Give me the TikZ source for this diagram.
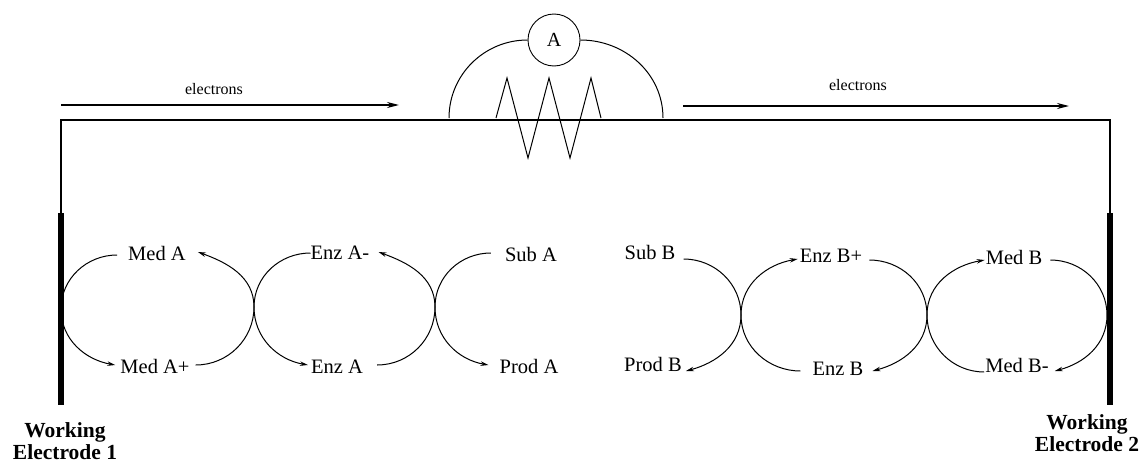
\documentclass[tikz,border=0pt]{standalone}
\usepackage{fontspec}
\setmainfont{Liberation Serif}
\usetikzlibrary{arrows.meta}
\tikzset{
  spc/.style={inner sep=0pt, font=\fontsize{20.5}{22}\selectfont},
  eti/.style={inner sep=0pt, font=\fontsize{16}{18}\selectfont},
  elec/.style={inner sep=0pt, align=center, font=\fontsize{21.5}{21.5}\selectfont\bfseries},
  barra/.style={draw=none, fill=black, inner sep=0pt, minimum width=6pt, minimum height=192pt},
  amp/.style={draw, circle, line width=0.9pt, inner sep=0pt, minimum size=52pt, font=\fontsize{20}{22}\selectfont},
  arc/.style={line width=1pt},
  fl/.style={line width=1pt, -{Stealth[length=8pt,width=4.5pt]}},
  flg/.style={line width=1.5pt, -{Stealth[length=12pt,width=6pt]}},
  hilo/.style={line width=1.5pt},
}
\begin{document}
\begin{tikzpicture}[x=1pt, y=-1pt]
  \useasboundingbox (0,0) rectangle (1141,463);
  % circuit
  \node[barra] (we1) at (61,309) {};
  \node[barra] (we2) at (1110,309) {};
  \coordinate (wl) at (61,120);
  \coordinate (wr) at (1110,120);
  \draw[hilo] (we1.north) -- (wl) -- (wr) -- (we2.north);
  \node[amp] (amp) at (554,40) {A};
  \coordinate (ap1) at (449,118);
  \coordinate (ap2) at (663,118);
  \draw[arc] (ap1) to[out=90, in=180] (amp.west);
  \draw[arc] (amp.east) to[out=0, in=90] (ap2);
  \draw[arc] (496,118) -- (507,78) -- (528,158) -- (549,78) -- (570,158) -- (591,78) -- (601,118);
  % electrons
  \node[eti] (e1) at (214,89) {electrons};
  \node[eti] (e2) at (858,85) {electrons};
  \coordinate (e1a) at (61,105);
  \coordinate (e1b) at (399,105);
  \coordinate (e2a) at (683,106);
  \coordinate (e2b) at (1069,106);
  \draw[flg] (e1a) -- (e1b);
  \draw[flg] (e2a) -- (e2b);
  % species
  \node[spc] (medA) at (157,253) {Med A};
  \node[spc] (medAp) at (155,366) {Med A+};
  \node[spc] (enzAm) at (340,253) {Enz A-};
  \node[spc] (enzA) at (337,367) {Enz A};
  \node[spc] (subA) at (531,254) {Sub A};
  \node[spc] (prodA) at (529,366) {Prod A};
  \node[spc] (subB) at (650,252) {Sub B};
  \node[spc] (prodB) at (653,364) {Prod B};
  \node[spc] (enzBp) at (831,256) {Enz B+};
  \node[spc] (enzB) at (838,369) {Enz B};
  \node[spc] (medB) at (1014,257) {Med B};
  \node[spc] (medBm) at (1017,365) {Med B-};
  \coordinate (c0) at (61,309);
  \coordinate (c1) at (254,307);
  \coordinate (c2) at (435,307);
  \coordinate (c3) at (741,315);
  \coordinate (c4) at (927,315);
  \coordinate (c5) at (1107,315);
  % left cycle
  \draw[fl] ([shift={(-11,2)}]medA.west) to[out=180, in=90] (c0) to[out=-90, in=170] ([shift={(-5,-1)}]medAp.west);
  \draw[fl] ([shift={(6,-1)}]medAp.east) to[out=0, in=-90] (c1) to[out=90, in=-20] ([shift={(12,-1)}]medA.east);
  \draw[fl] ([shift={(0,0)}]enzAm.west) to[out=180, in=90] (c1) to[out=-90, in=170] ([shift={(-3,-2)}]enzA.west);
  \draw[fl] ([shift={(14,-2)}]enzA.east) to[out=0, in=-90] (c2) to[out=90, in=-20] ([shift={(9,-1)}]enzAm.east);
  \draw[fl] ([shift={(-14,-1)}]subA.west) to[out=180, in=90] (c2) to[out=-90, in=170] ([shift={(-11,-1)}]prodA.west);
  % right cycle
  \draw[fl] ([shift={(8,7)}]subB.east) to[out=0, in=90] (c3) to[out=-90, in=15] ([shift={(4,7)}]prodB.east);
  \draw[fl] ([shift={(-12,2)}]enzB.west) to[out=180, in=-90] (c3) to[out=90, in=190] ([shift={(-2,3)}]enzBp.west);
  \draw[fl] ([shift={(7,4)}]enzBp.east) to[out=0, in=90] (c4) to[out=-90, in=15] ([shift={(9,2)}]enzB.east);
  \draw[fl] ([shift={(-1,7)}]medBm.west) to[out=180, in=-90] (c4) to[out=90, in=190] ([shift={(-1,3)}]medB.west);
  \draw[fl] ([shift={(8,3)}]medB.east) to[out=0, in=90] (c5) to[out=-90, in=15] ([shift={(6,6)}]medBm.east);
  % electrode labels
  \node[elec] (lab1) at (65,441) {Working\\Electrode 1};
  \node[elec] (lab2) at (1087,433) {Working\\Electrode 2};
\end{tikzpicture}
\end{document}
